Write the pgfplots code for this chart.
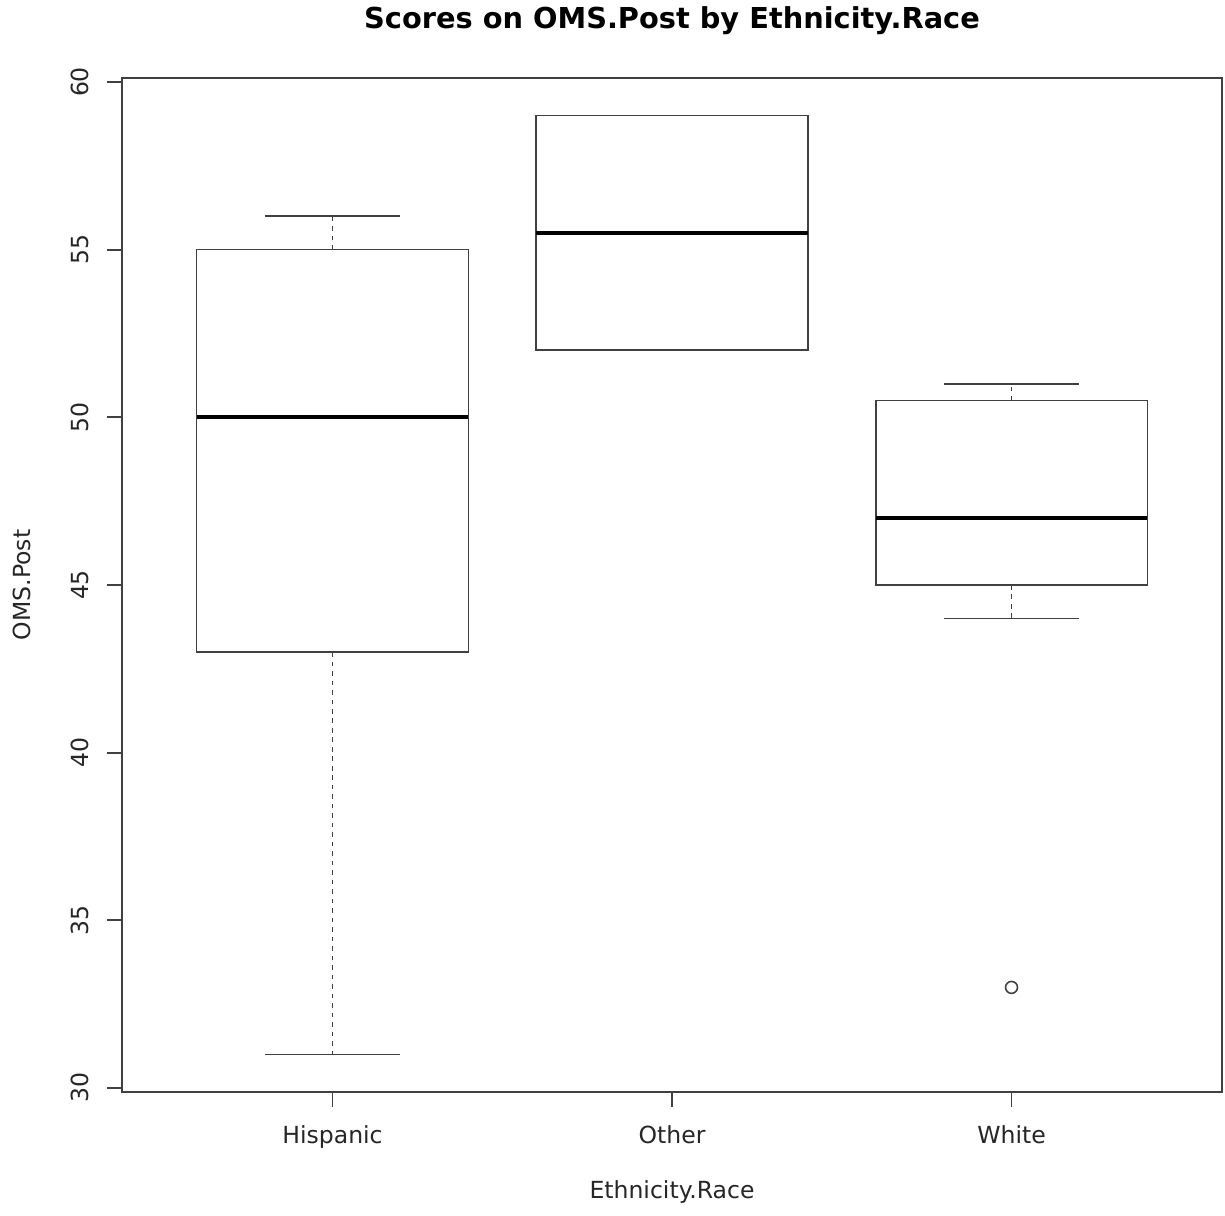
\documentclass[border=0pt]{standalone}
\usepackage{fontspec}
\setmainfont{DejaVu Sans}
\usepackage{pgfplots}
\pgfplotsset{compat=1.18}
\usepgfplotslibrary{statistics}
\definecolor{ln}{gray}{0.25}
\begin{document}
\begin{tikzpicture}
\begin{axis}[
  scale only axis, width=11cm, height=10.14cm,
  xmin=0.38, xmax=3.62, ymin=29.88, ymax=60.12,
  xtick={1,2,3}, xticklabels={Hispanic,Other,White},
  ytick={30,35,40,45,50,55,60},
  /pgf/number format/assume math mode=true,
  tick align=outside, major tick length=0.15cm,
  xtick pos=bottom, ytick pos=left,
  axis line style={ln, line width=0.5pt},
  tick style={ln, line width=0.5pt},
  ticklabel style={font=\fontsize{6.7}{8}\selectfont, text=black!85},
  yticklabel style={rotate=90, anchor=south, inner sep=0pt},
  xticklabel style={anchor=north, inner sep=0pt},
  yticklabel shift=0.17cm,
  xticklabel shift=0.18cm,
  title={\bfseries Scores on OMS.Post by Ethnicity.Race},
  title style={font=\fontsize{8.2}{10}\selectfont, at={(axis description cs:0.5,1.0562)}, anchor=center, inner sep=0pt, yshift=0pt},
  every axis title shift=0pt,
  xlabel={Ethnicity.Race},
  ylabel={OMS.Post},
  xlabel style={font=\fontsize{6.7}{8}\selectfont, text=black!85, at={(axis description cs:0.5,-0.0986)}, anchor=center, inner sep=0pt},
  ylabel style={font=\fontsize{6.7}{8}\selectfont, text=black!85, at={(axis description cs:-0.0909,0.5)}, anchor=center, rotate=0, inner sep=0pt},
  boxplot/draw direction=y,
  boxplot/every median/.style={line width=1.1pt, black},
  boxplot/every whisker/.style={line width=0.5pt, dash pattern=on 1.3pt off 1.4pt},
  unbounded coords=jump,
]
% Hispanic
\addplot[ln, line width=0.45pt, boxplot prepared={draw position=1, lower whisker=31, lower quartile=43, median=50, upper quartile=55, upper whisker=56, box extend=0.8, whisker extend=0}] coordinates {};
% Other
\addplot[ln, line width=0.45pt, boxplot prepared={draw position=2, lower whisker=52, lower quartile=52, median=55.5, upper quartile=59, upper whisker=59, box extend=0.8, whisker extend=0}] coordinates {};
% White
\addplot[ln, line width=0.45pt, boxplot prepared={draw position=3, lower whisker=44, lower quartile=45, median=47, upper quartile=50.5, upper whisker=51, box extend=0.8, whisker extend=0}] coordinates {};
% staples
\addplot[ln, line width=0.45pt] coordinates {(0.8,56) (1.2,56) (1,nan) (0.8,31) (1.2,31) (2,nan) (1.8,59) (2.2,59) (2,nan) (1.8,52) (2.2,52) (3,nan) (2.8,51) (3.2,51) (3,nan) (2.8,44) (3.2,44)};
% outlier
\addplot[ln, only marks, mark=o, mark size=1.7pt, mark options={line width=0.45pt}] coordinates {(3,33)};
\end{axis}
\path ([shift={(-1.22cm,-1.23cm)}]current axis.south west) rectangle ([shift={(0.03cm,0.78cm)}]current axis.north east);
\end{tikzpicture}
\end{document}
